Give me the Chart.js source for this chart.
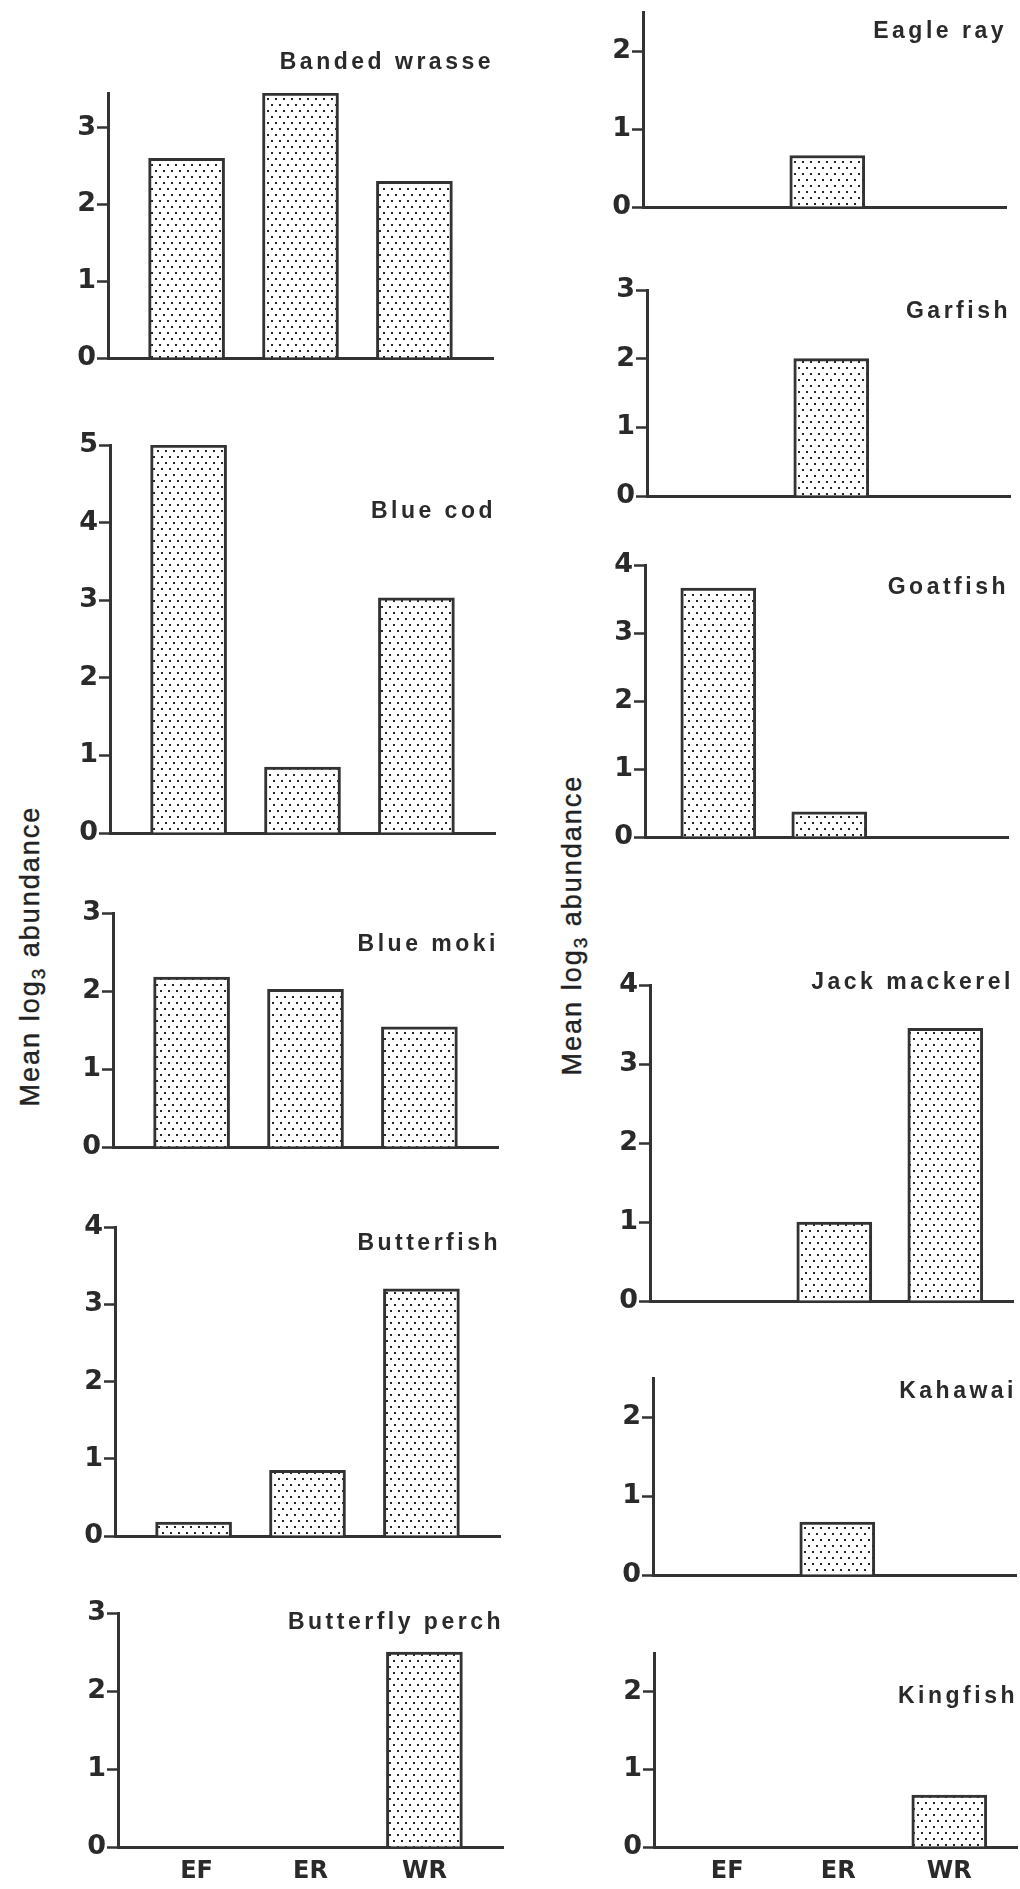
<!DOCTYPE html>
<html>
<head>
<meta charset="utf-8">
<script src="https://cdn.jsdelivr.net/npm/chart.js@4.4.0/dist/chart.umd.min.js"></script>
<style>
  body { margin: 0; background: #fff; }
  #page { position: relative; width: 1020px; height: 1889px; overflow: hidden; background: #fff; }
  #page canvas { position: absolute; }
  .ytitle {
    position: absolute; white-space: nowrap;
    font: 27px "Liberation Sans", Arial, sans-serif; letter-spacing: 2px; color: #222;
    -webkit-text-stroke: 0.4px #222;
    transform: translate(-50%, -50%) rotate(-90deg);
  }
  .ytitle sub { font-size: 19px; vertical-align: -6px; line-height: 0; }
</style>
</head>
<body>
<div id="page">
  <div class="ytitle" style="left:30px; top:956px">Mean log<sub>3</sub> abundance</div>
  <div class="ytitle" style="left:572px; top:925px">Mean log<sub>3</sub> abundance</div>
</div>
<script>
// sites on the x axis
var categories = ['EF', 'ER', 'WR'];

// species, left column then right column
var species = ['Banded wrasse', 'Blue cod', 'Blue moki', 'Butterfish', 'Butterfly perch',
  'Eagle ray', 'Garfish', 'Goatfish', 'Jack mackerel', 'Kahawai', 'Kingfish'];

// mean log3 abundance at EF, ER, WR
var bandedWrasse = [2.6, 3.45, 2.3];
var blueCod = [5.0, 0.85, 3.03];
var blueMoki = [2.18, 2.02, 1.54];
var butterfish = [0.18, 0.85, 3.2];
var butterflyPerch = [0, 0, 2.5];
var eagleRay = [0, 0.66, 0];
var garfish = [0, 2.0, 0];
var goatfish = [3.66, 0.37, 0];
var jackMackerel = [0, 1.0, 3.45];
var kahawai = [0, 0.67, 0];
var kingfish = [0, 0, 0.67];

var values = [bandedWrasse, blueCod, blueMoki, butterfish, butterflyPerch,
  eagleRay, garfish, goatfish, jackMackerel, kahawai, kingfish];

// top of each y axis
var axisMax = [3.45, 5, 3, 4, 3, 2.5, 3, 4, 4, 2.5, 2.5];

// panel placement on the page (pixels), title height in axis units
var panels = [
  { col: 0, x: 108, top: 93,   zero: 358,  title: 3.85 },
  { col: 0, x: 110, top: 445,  zero: 833,  title: 4.14 },
  { col: 0, x: 113, top: 913,  zero: 1147, title: 2.59 },
  { col: 0, x: 115, top: 1227, zero: 1536, title: 3.79 },
  { col: 0, x: 118, top: 1613, zero: 1847, title: 2.88, labels: true },
  { col: 1, x: 643, top: 12,   zero: 207,  title: 2.25 },
  { col: 1, x: 647, top: 290,  zero: 496,  title: 2.68 },
  { col: 1, x: 645, top: 565,  zero: 837,  title: 3.66 },
  { col: 1, x: 650, top: 985,  zero: 1301, title: 4.03 },
  { col: 1, x: 653, top: 1378, zero: 1575, title: 2.33 },
  { col: 1, x: 654, top: 1653, zero: 1847, title: 1.94, labels: true }
];
var columns = [
  { xmin: 0.31, xmax: 3.69, step: 114, bar: 76 },
  { xmin: 0.34, xmax: 3.61, step: 111, bar: 75 }
];

var INK = '#333';
var PAD_T = 50, AXIS_W = 70, PAD_R = 8, PAD_B = 20;

// stippled fill like the original print
function dots() {
  var t = document.createElement('canvas');
  t.width = 8; t.height = 12;
  var g = t.getContext('2d');
  g.fillStyle = '#fff';
  g.fillRect(0, 0, 8, 12);
  g.fillStyle = '#262626';
  g.fillRect(1, 1, 2, 2);
  g.fillRect(5, 7, 2, 2);
  return g.createPattern(t, 'repeat');
}
var stipple = dots();

var speciesLabel = {
  id: 'speciesLabel',
  afterDraw: function (chart) {
    var o = chart.options.plugins.speciesLabel;
    var ctx = chart.ctx;
    var y = chart.scales.y.getPixelForValue(o.at);
    ctx.save();
    ctx.font = 'bold 23px "Liberation Sans", Arial, sans-serif';
    ctx.letterSpacing = '3.5px';
    ctx.fillStyle = '#2a2a2a';
    ctx.textAlign = 'right';
    ctx.textBaseline = 'middle';
    ctx.fillText(o.text, chart.chartArea.right + 1, y);
    ctx.restore();
  }
};

var page = document.getElementById('page');

panels.forEach(function (p, i) {
  var c = columns[p.col];
  var plotW = Math.round((c.xmax - c.xmin) * c.step);
  var plotH = p.zero - p.top;
  var xH = p.labels ? 40 : 0;

  var cv = document.createElement('canvas');
  cv.width = AXIS_W + plotW + PAD_R;
  cv.height = PAD_T + plotH + xH + PAD_B;
  cv.style.left = (p.x - AXIS_W) + 'px';
  cv.style.top = (p.top - PAD_T) + 'px';
  page.appendChild(cv);

  new Chart(cv, {
    type: 'bar',
    data: {
      datasets: [{
        data: categories.map(function (cat, k) { return { x: k + 1, y: values[i][k] }; }),
        backgroundColor: stipple,
        borderColor: INK,
        borderWidth: 3,
        borderSkipped: 'bottom',
        barThickness: c.bar
      }]
    },
    options: {
      responsive: false,
      animation: false,
      events: [],
      layout: { padding: { top: PAD_T, left: 0, right: PAD_R, bottom: PAD_B } },
      plugins: {
        legend: { display: false },
        tooltip: { enabled: false },
        speciesLabel: { text: species[i], at: p.title }
      },
      scales: {
        x: {
          type: 'linear',
          offset: false,
          min: c.xmin,
          max: c.xmax,
          afterBuildTicks: function (s) {
            s.ticks = [1, 2, 3].map(function (v) { return { value: v }; });
          },
          afterFit: function (s) { s.height = xH; },
          grid: { display: false, drawTicks: false },
          border: { display: true, color: INK, width: 3 },
          ticks: {
            display: !!p.labels,
            padding: 10,
            color: '#2a2a2a',
            font: { family: '"DejaVu Sans", sans-serif', size: 24, weight: 'bold' },
            callback: function (v) { return categories[v - 1]; }
          }
        },
        y: {
          min: 0,
          max: axisMax[i],
          afterFit: function (s) { s.width = AXIS_W; },
          grid: {
            display: true, drawOnChartArea: false, drawTicks: true,
            tickLength: 11, tickWidth: 2.5, tickColor: INK
          },
          border: { display: true, color: INK, width: 3 },
          ticks: {
            stepSize: 1,
            includeBounds: false,
            padding: 1,
            color: '#2a2a2a',
            font: { family: '"DejaVu Sans", sans-serif', size: 27, weight: 'bold' }
          }
        }
      }
    },
    plugins: [speciesLabel]
  });
});
</script>
</body>
</html>
